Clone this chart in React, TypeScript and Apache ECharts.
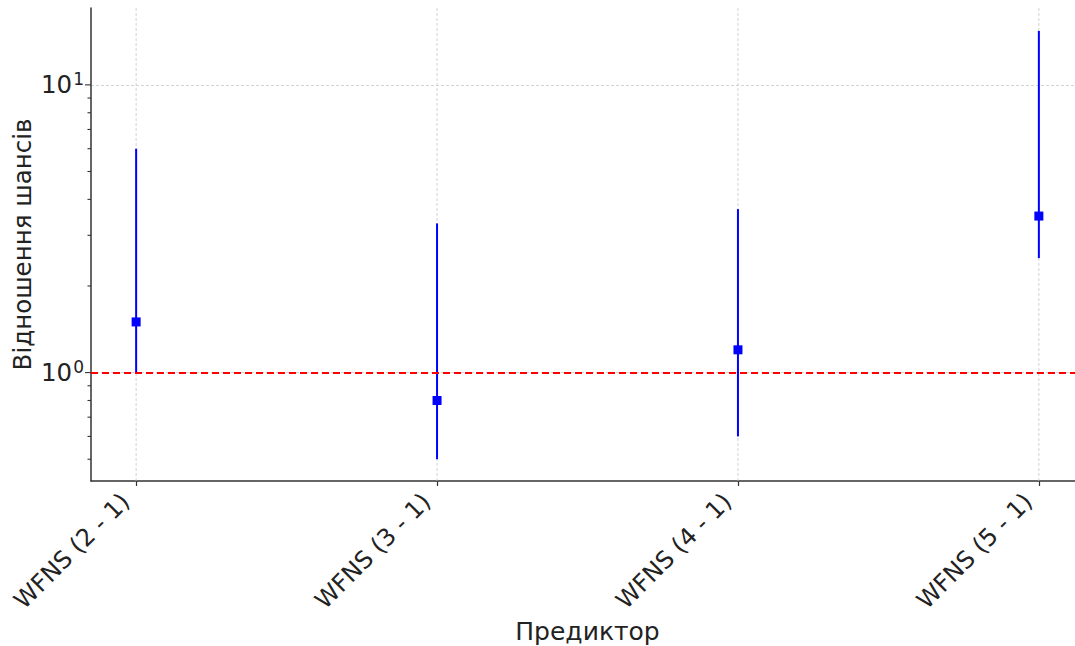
import React, { useEffect, useRef } from "react";
import * as echarts from "echarts";

const categories = ["WFNS (2 - 1)", "WFNS (3 - 1)", "WFNS (4 - 1)", "WFNS (5 - 1)"];
const oddsRatio = [1.5, 0.8, 1.2, 3.5];
const ciLower = [1.0, 0.5, 0.6, 2.5];
const ciUpper = [6.0, 3.3, 3.7, 15.4];
const referenceValue = 1;
const yMin = 0.42;
const yMax = 18.5;
const xMin = -0.15;
const xMax = 3.15;
const majorTicks = [1, 10];
const minorTicks = [0.5, 0.6, 0.7, 0.8, 0.9, 2, 3, 4, 5, 6, 7, 8, 9];
const FONT = "DejaVu Sans";

export default function App() {
  const ref = useRef<HTMLDivElement>(null);
  useEffect(() => {
    if (!ref.current) return;
    const chart = echarts.init(ref.current, undefined, { renderer: "svg" });
    const idx = categories.map((_, i) => i);
    chart.setOption({
      animation: false,
      grid: { left: 91, right: -9, top: 8, bottom: 165, outerBoundsMode: "none", containLabel: false },
      xAxis: {
        type: "value",
        min: xMin,
        max: xMax,
        name: "Предиктор",
        nameLocation: "middle",
        nameGap: 138,
        nameMoveOverlap: false,
        nameTextStyle: { fontFamily: FONT, fontSize: 25, color: "#222" },
        axisLine: { show: true, onZero: false, lineStyle: { color: "#333", width: 1.5 } },
        axisTick: { show: true, customValues: idx, length: 5, lineStyle: { color: "#333", width: 1.2 } },
        axisLabel: {
          customValues: idx,
          rotate: 45,
          margin: 6,
          padding: [0, 15, 0, 0],
          fontFamily: FONT,
          fontSize: 24,
          color: "#222",
          formatter: (v: number) => categories[Math.round(v)] ?? "",
        },
        splitLine: { show: false },
      },
      yAxis: {
        type: "log",
        logBase: 10,
        min: yMin,
        max: yMax,
        name: "Відношення шансів",
        nameLocation: "middle",
        nameGap: 56,
        nameMoveOverlap: false,
        nameTextStyle: { fontFamily: FONT, fontSize: 24.5, color: "#222" },
        axisLine: { show: true, onZero: false, lineStyle: { color: "#333", width: 1.5 } },
        axisTick: { show: false },
        axisLabel: {
          margin: 7,
          showMinLabel: false,
          showMaxLabel: false,
          formatter: (v: number) => {
            if (Math.abs(v - 1) < 1e-6) return "{b|10}{s|0}";
            if (Math.abs(v - 10) < 1e-6) return "{b|10}{s|1}";
            return "";
          },
          rich: {
            b: { fontFamily: FONT, fontSize: 24.5, color: "#222" },
            s: { fontFamily: FONT, fontSize: 17, color: "#222", padding: [0, 0, 12, 1] },
          },
        },
        splitLine: {
          show: true,
          showMinLine: false,
          showMaxLine: false,
          lineStyle: { color: "#c8c8c8", type: [3, 2], width: 0.8 },
        },
      },
      series: [
        {
          type: "custom",
          name: "xgrid",
          silent: true,
          z: 1,
          data: idx.map((i) => [i]),
          renderItem: (params: any, api: any) => {
            const i = api.value(0);
            const p1 = api.coord([i, yMin]);
            const p2 = api.coord([i, yMax]);
            return {
              type: "line",
              shape: { x1: p1[0], y1: p1[1], x2: p2[0], y2: p2[1] },
              style: { stroke: "#c8c8c8", lineWidth: 0.8, lineDash: [3, 2] },
            };
          },
        },
        {
          type: "custom",
          name: "yticks",
          silent: true,
          clip: false,
          data: [
            ...majorTicks.map((v) => [v, 6]),
            ...minorTicks.map((v) => [v, 3.5]),
          ],
          renderItem: (params: any, api: any) => {
            const p = api.coord([xMin, api.value(0)]);
            const len = api.value(1);
            return {
              type: "line",
              shape: { x1: p[0] - len, y1: p[1], x2: p[0], y2: p[1] },
              style: { stroke: "#333", lineWidth: 1.1 },
            };
          },
        },
        {
          type: "custom",
          name: "ci",
          z: 3,
          data: idx.map((i) => [i, ciLower[i], ciUpper[i]]),
          renderItem: (params: any, api: any) => {
            const lo = api.coord([api.value(0), api.value(1)]);
            const hi = api.coord([api.value(0), api.value(2)]);
            return {
              type: "line",
              shape: { x1: lo[0], y1: lo[1], x2: hi[0], y2: hi[1] },
              style: { stroke: "#0000ff", lineWidth: 2 },
            };
          },
        },
        {
          type: "scatter",
          name: "OR",
          z: 4,
          symbol: "rect",
          symbolSize: 9,
          itemStyle: { color: "#0000ff", opacity: 1 },
          data: idx.map((i) => [i, oddsRatio[i]]),
          markLine: {
            silent: true,
            symbol: "none",
            label: { show: false },
            lineStyle: { color: "#ff0000", type: [7, 4], width: 2, opacity: 1 },
            data: [{ yAxis: referenceValue }],
          },
        },
      ],
    });
    return () => chart.dispose();
  }, []);
  return <div ref={ref} style={{ width: 1075, height: 646, position: "absolute", left: 0, top: 0 }} />;
}
